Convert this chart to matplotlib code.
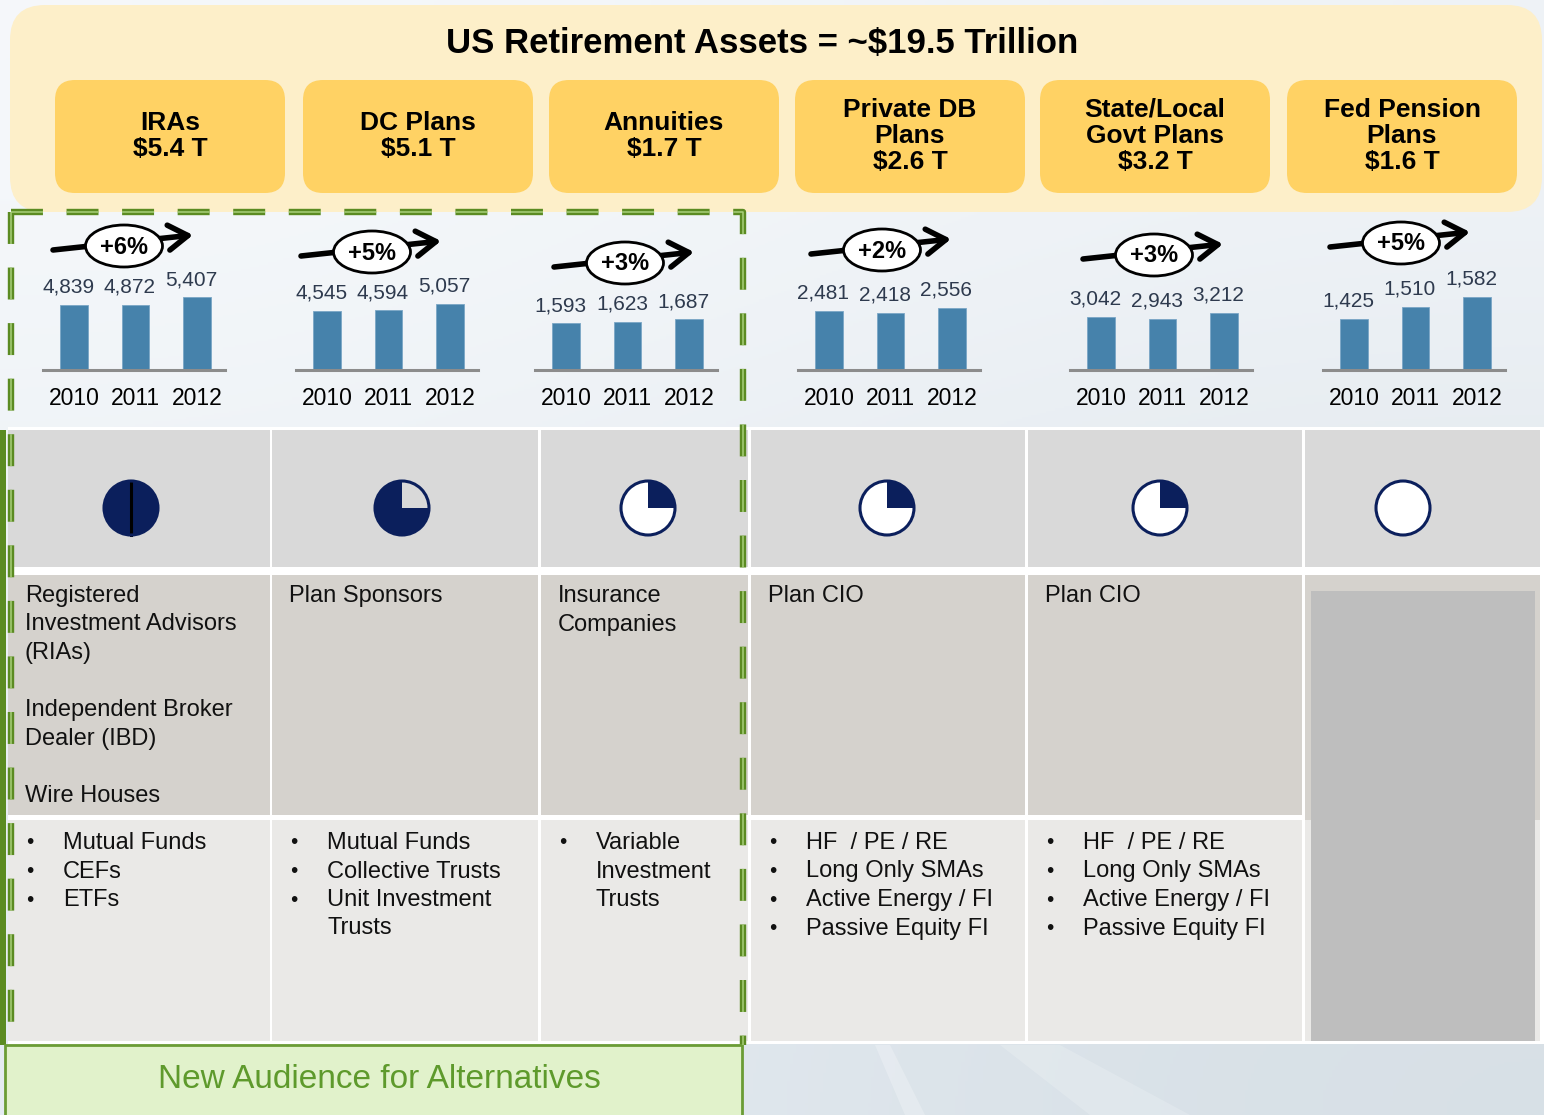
import numpy as np
import matplotlib.pyplot as plt
from matplotlib.patches import FancyBboxPatch, Rectangle, Ellipse, Wedge, Circle
from matplotlib.lines import Line2D

plt.rcParams['font.family'] = ['Liberation Sans', 'DejaVu Sans']
plt.rcParams['lines.scale_dashes'] = False

# ---- data ----
title = 'US Retirement Assets = ~$19.5 Trillion'
segments = ['IRAs\n$5.4 T', 'DC Plans\n$5.1 T', 'Annuities\n$1.7 T',
            'Private DB\nPlans\n$2.6 T', 'State/Local\nGovt Plans\n$3.2 T',
            'Fed Pension\nPlans\n$1.6 T']
years = ['2010', '2011', '2012']
iras = [4839, 4872, 5407]
dc_plans = [4545, 4594, 5057]
annuities = [1593, 1623, 1687]
private_db = [2481, 2418, 2556]
state_local = [3042, 2943, 3212]
fed_pension = [1425, 1510, 1582]
series = [iras, dc_plans, annuities, private_db, state_local, fed_pension]
growth = ['+6%', '+5%', '+3%', '+2%', '+3%', '+5%']
harvey = [1.0, 0.75, 0.25, 0.25, 0.25, 0.0]
audiences = [
    ['Registered', 'Investment Advisors', '(RIAs)', '', 'Independent Broker',
     'Dealer (IBD)', '', 'Wire Houses'],
    ['Plan Sponsors'],
    ['Insurance', 'Companies'],
    ['Plan CIO'],
    ['Plan CIO'],
    [],
]
products = [
    ['Mutual Funds', 'CEFs', 'ETFs'],
    ['Mutual Funds', 'Collective Trusts', 'Unit Investment\nTrusts'],
    ['Variable\nInvestment\nTrusts'],
    ['HF  / PE / RE', 'Long Only SMAs', 'Active Energy / FI', 'Passive Equity FI'],
    ['HF  / PE / RE', 'Long Only SMAs', 'Active Energy / FI', 'Passive Equity FI'],
    [],
]
footer = 'New Audience for Alternatives'

# ---- layout (pixels) ----
W, H = 1544, 1115
box_x = [55, 303, 549, 795, 1040, 1287]
chart_x0 = [43, 296, 535, 798, 1070, 1323]
chart_ylim = [(0, 7445), (0, 7700), (500, 2850), (1000, 3500), (650, 5134), (1060, 1774)]
ell_c = [(124, 246), (372, 252), (625, 263), (882, 250), (1154, 255), (1401, 243)]
cols = [(8, 270), (272, 538), (541, 748), (751, 1025), (1028, 1302), (1305, 1540)]
pie_x = [131, 402, 648, 887, 1160, 1403]
pie_empty = ['white', '#d9d9d9', 'white', 'white', 'white', 'white']
navy = '#0b1f5c'
green = '#5b8b22'

fig = plt.figure(figsize=(W / 100, H / 100), dpi=100)
ax = fig.add_axes([0, 0, 1, 1])
ax.set_xlim(0, W)
ax.set_ylim(H, 0)
ax.axis('off')

# background gradient
bg = np.array([[[0.965, 0.975, 0.985], [0.94, 0.955, 0.97]],
               [[0.90, 0.925, 0.95], [0.84, 0.875, 0.90]]])
ax.imshow(bg, extent=(0, W, H, 0), interpolation='bicubic', aspect='auto', zorder=0)
ax.fill([1000, 1060, 1190, 1090], [1045, 1045, 1115, 1115], color='white', alpha=0.18, lw=0, zorder=0.5)
ax.fill([875, 890, 925, 905], [1045, 1045, 1115, 1115], color='white', alpha=0.25, lw=0, zorder=0.5)

# header
ax.add_patch(FancyBboxPatch((10, 5), 1532, 207, boxstyle='round,pad=0,rounding_size=35',
                            fc='#fdefc9', ec='none', zorder=1))
ax.text(762, 43, title, ha='center', va='center', fontsize=25, fontweight='bold', zorder=3)
for bx, lab in zip(box_x, segments):
    ax.add_patch(FancyBboxPatch((bx, 80), 230, 113, boxstyle='round,pad=0,rounding_size=20',
                                fc='#ffd264', ec='none', zorder=2))
    ax.text(bx + 115, 136, lab, ha='center', va='center', fontsize=19, fontweight='bold',
            linespacing=1.12, zorder=3)

# bar charts
for x0, vals, yl, pct, (cx, cy) in zip(chart_x0, series, chart_ylim, growth, ell_c):
    ab = fig.add_axes([x0 / W, 1 - 370 / H, 182 / W, 100 / H])
    ab.patch.set_visible(False)
    ab.bar(range(3), vals, width=0.44, color='#4682ab', edgecolor='#7aa6c6', lw=0.6)
    ab.set_xlim(-0.504, 2.455)
    ab.set_ylim(*yl)
    for s in ['left', 'right', 'top']:
        ab.spines[s].set_visible(False)
    ab.spines['bottom'].set_color('#8c8c8c')
    ab.spines['bottom'].set_linewidth(2.2)
    ab.set_yticks([])
    ab.set_xticks(range(3))
    ab.set_xticklabels(years, fontsize=16.5)
    ab.tick_params(axis='x', length=0, pad=12)
    for i, v in enumerate(vals):
        ab.annotate(f'{v:,}', (i, v), xytext=(-4, 6), textcoords='offset points',
                    ha='center', va='bottom', fontsize=15, color='#2e3a4e')
    # growth arrow
    ax.annotate('', xy=(cx + 69, cy - 11), xytext=(cx - 71, cy + 4),
                arrowprops=dict(arrowstyle='->,head_length=0.7,head_width=0.45', lw=4,
                                color='black', mutation_scale=20, shrinkA=0, shrinkB=0),
                zorder=4)
    ax.add_patch(Ellipse((cx, cy), 77, 42, fc='white', ec='black', lw=2, zorder=5))
    ax.text(cx, cy + 1, pct, ha='center', va='center', fontsize=17, fontweight='bold', zorder=6)

# table
ax.add_patch(Rectangle((8, 427), W - 8, 617, fc='white', ec='none', zorder=1))
for i, (cl, cr) in enumerate(cols):
    ax.add_patch(Rectangle((cl, 430), cr - cl, 137, fc='#d9d9d9', ec='none', zorder=2))
    ax.add_patch(Rectangle((cl, 575), cr - cl, 240, fc='#d5d2cd', ec='none', zorder=2))
    ax.add_patch(Rectangle((cl, 820), cr - cl, 221, fc='#eae9e7', ec='none', zorder=2))
ax.add_patch(Rectangle((1305, 815), 235, 5, fc='#d5d2cd', ec='none', zorder=2))
ax.add_patch(Rectangle((1311, 591), 224, 450, fc='#bebebe', ec='none', zorder=3))

# harvey balls
for px, v, emp in zip(pie_x, harvey, pie_empty):
    r = 27
    if v >= 0.5:
        ax.add_patch(Circle((px, 508), r, fc=navy, ec='none', zorder=4))
        if v < 1:
            ax.add_patch(Wedge((px, 508), r, -90, -90 + 360 * (1 - v), fc=emp, ec='none', zorder=5))
        else:
            ax.plot([px, px], [508 - r, 508 + r], color='black', lw=2.2, zorder=6)
    else:
        ax.add_patch(Circle((px, 508), r, fc=emp, ec='none', zorder=4))
        if v > 0:
            ax.add_patch(Wedge((px, 508), r, -90, -90 + 360 * v, fc=navy, ec='none', zorder=5))
    ax.add_patch(Circle((px, 508), r, fc='none', ec=navy, lw=2.2, zorder=6))

step = 28.5
for (cl, cr), aud, prod in zip(cols, audiences, products):
    for j, line in enumerate(aud):
        ax.text(cl + 17, 596 + j * step, line, ha='left', va='center', fontsize=17,
                color='#111111', zorder=7)
    k = 0
    for item in prod:
        ax.text(cl + 22, 843 + k * step, '\u2022', ha='center', va='center', fontsize=15,
                color='#111111', zorder=7)
        for line in item.split('\n'):
            ax.text(cl + 55, 843 + k * step, line, ha='left', va='center', fontsize=17,
                    color='#111111', zorder=7)
            k += 1

# green dashed highlight
ax.add_patch(Rectangle((0, 430), 6, 615, fc=green, ec='none', zorder=8))
for xs, ys in [([11, 11], [212, 1045]), ([11, 743, 743], [212, 212, 1045])]:
    ln = Line2D(xs, ys, color=green, lw=4.6, zorder=8)
    ln.set_dashes((23, 17))
    ax.add_line(ln)
    ln2 = Line2D(xs, ys, color='#a9cf7c', lw=1.1, zorder=9)
    ln2.set_dashes((23, 17))
    ax.add_line(ln2)

# footer box
ax.add_patch(Rectangle((5, 1045), 737, 80, fc='#e1f2cb', ec='#6b9c35', lw=2, zorder=8))
ax.text(379, 1080, footer, ha='center', va='center', fontsize=24, color='#5e9a2c', zorder=9)

fig.savefig('out.png', dpi=100)
